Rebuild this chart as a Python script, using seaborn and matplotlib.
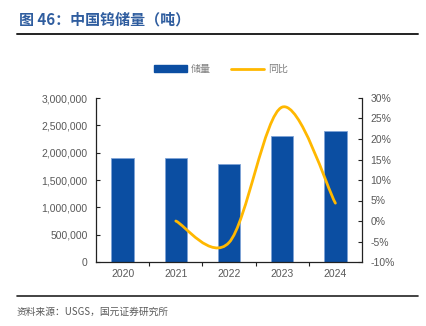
import numpy as np
import pandas as pd
import matplotlib
matplotlib.use("Agg")
import matplotlib.pyplot as plt
import seaborn as sns
from matplotlib.path import Path
from matplotlib.patches import PathPatch, Patch
from matplotlib.lines import Line2D
from matplotlib.ticker import FuncFormatter, MultipleLocator, FixedLocator

# ---- data ----
years = ["2020", "2021", "2022", "2023", "2024"]
reserves = [1900000, 1900000, 1800000, 2300000, 2400000]
yoy_years = ["2021", "2022", "2023", "2024"]
yoy = [0.0, -5.26, 27.78, 4.35]  # percent

title = "图 46：中国钨储量（吨）"
source = "资料来源：USGS，国元证券研究所"
legend_bar = "储量"
legend_line = "同比"

BLUE = "#0B4EA2"
GOLD = "#FFB800"
GRAY = "#595959"

sns.set_theme(style="white")
plt.rcParams['font.family'] = ['Liberation Sans', 'Noto Sans CJK SC', 'DejaVu Sans']

fig = plt.figure(figsize=(4.27, 3.26), dpi=100)
ax = fig.add_axes([96/427, 1-262/326, 266/427, 164/326])

df = pd.DataFrame({"year": years, "reserves": reserves})
sns.barplot(data=df, x="year", y="reserves", color=BLUE, width=0.42,
            saturation=1, ax=ax, edgecolor="#7FA3D6", linewidth=0.6)
ax.set_xlim(-0.5, 4.5)
ax.set_ylim(0, 3000000)
ax.yaxis.set_major_locator(MultipleLocator(500000))
ax.yaxis.set_major_formatter(FuncFormatter(lambda v, p: f"{int(v):,}"))
ax.set_xlabel("")
ax.set_ylabel("")

ax2 = ax.twinx()
ax2.set_ylim(-10, 30)
ax2.yaxis.set_major_locator(MultipleLocator(5))
ax2.yaxis.set_major_formatter(FuncFormatter(lambda v, p: f"{int(round(v))}%"))

# smoothed line (Catmull-Rom -> cubic Bezier, as in Excel smoothing)
xs = [years.index(y) for y in yoy_years]
pts = np.column_stack([xs, yoy]).astype(float)
n = len(pts)
verts = [tuple(pts[0])]
codes = [Path.MOVETO]
for i in range(n - 1):
    p0 = pts[i - 1] if i > 0 else pts[i]
    p1 = pts[i]
    p2 = pts[i + 1]
    p3 = pts[i + 2] if i + 2 < n else pts[i + 1]
    c1 = p1 + (p2 - p0) / 6.0
    c2 = p2 - (p3 - p1) / 6.0
    verts += [tuple(c1), tuple(c2), tuple(p2)]
    codes += [Path.CURVE4] * 3
ax2.add_patch(PathPatch(Path(verts, codes), facecolor="none", edgecolor=GOLD,
                        linewidth=2.0, capstyle="round", zorder=5))

for a in (ax, ax2):
    for s in a.spines.values():
        s.set_visible(False)
ax.spines["left"].set_visible(True)
ax.spines["bottom"].set_visible(True)
ax2.spines["right"].set_visible(True)
for s in (ax.spines["left"], ax.spines["bottom"], ax2.spines["right"]):
    s.set_color("#222222")
    s.set_linewidth(0.9)

ax.tick_params(axis="y", direction="in", length=3, width=0.8, color="#222222",
               labelsize=7.5, labelcolor=GRAY, pad=6, left=True)
ax.tick_params(axis="x", length=0, labelsize=7.5, labelcolor=GRAY, pad=5)
ax.xaxis.set_minor_locator(FixedLocator([0.5, 1.5, 2.5, 3.5]))
ax.tick_params(axis="x", which="minor", direction="out", length=3, width=0.8,
               color="#222222", bottom=True)
ax2.tick_params(axis="y", direction="in", length=3, width=0.8, color="#222222",
                labelsize=7.5, labelcolor=GRAY, pad=6, right=True)

# legend
handles = [Patch(facecolor=BLUE, edgecolor=BLUE),
           Line2D([0], [0], color=GOLD, linewidth=2)]
fig.legend(handles, [legend_bar, legend_line], loc="center",
           bbox_to_anchor=(221/427, 1-69/326), ncol=2, frameon=False,
           handlelength=3.3, handleheight=0.6, columnspacing=2.0,
           handletextpad=0.4, labelcolor="#7F7F7F",
           prop={"family": ["Noto Sans CJK SC"], "size": 7.2})

# title and source
fig.text(19/427, 1-20/326, title, fontsize=10.8, fontweight="bold",
         color="#2F5D9F", va="center", ha="left",
         family=["Noto Sans CJK SC", "DejaVu Sans"])
fig.add_artist(Line2D([17/427, 418/427], [1-33.5/326, 1-33.5/326],
                      color="#222222", linewidth=1.4))
fig.add_artist(Line2D([17/427, 418/427], [1-296/326, 1-296/326],
                      color="#222222", linewidth=1.2))
fig.text(17/427, 1-312/326, source, fontsize=7, color=GRAY, va="center",
         ha="left", family=["Noto Sans CJK SC", "DejaVu Sans"])

fig.savefig("out.png", dpi=100)
